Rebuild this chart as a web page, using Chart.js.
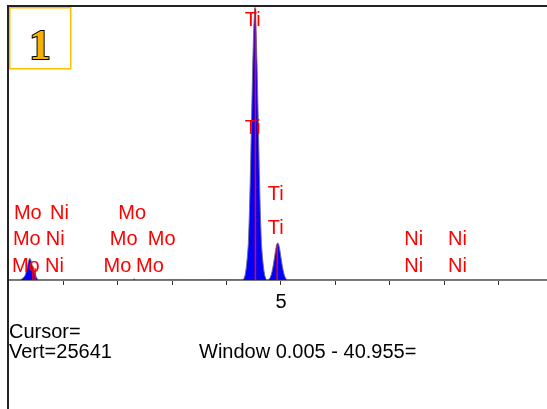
<!DOCTYPE html>
<html><head><meta charset="utf-8">
<script src="https://cdn.jsdelivr.net/npm/chart.js@4"></script>
<style>html,body{margin:0;padding:0;background:#fff;overflow:hidden}canvas{display:block}</style>
</head><body>
<canvas id="c" width="547" height="409"></canvas>
<script>
// Spectrum (energy in keV, counts)
const energies = [0.00, 0.20, 0.22, 0.24, 0.26, 0.28, 0.30, 0.32, 0.34, 0.36, 0.38, 0.40, 0.42, 0.44, 0.46, 0.48, 0.50, 0.52, 0.54,
  2.26, 2.30, 2.34,
  4.30, 4.32, 4.34, 4.36, 4.38, 4.40, 4.42, 4.44, 4.46, 4.48, 4.50, 4.52, 4.54, 4.56, 4.58, 4.60, 4.62, 4.64, 4.66, 4.68, 4.70, 4.72, 4.74,
  4.76, 4.78, 4.80, 4.82, 4.84, 4.86, 4.88, 4.90, 4.92, 4.94, 4.96, 4.98, 5.00, 5.02, 5.04, 5.06, 5.08, 5.10, 5.12,
  9.89];
const counts = [0, 0, 60, 120, 180, 300, 480, 850, 1350, 1800, 2050, 1900, 1500, 1150, 850, 550, 300, 120, 0,
  0, 100, 0,
  40, 150, 450, 1100, 2100, 3400, 6400, 10500, 15400, 20200, 23800, 25600, 23800, 20200, 15400, 10500, 6400, 3400, 2100, 1100, 450, 150, 0,
  0, 60, 220, 480, 900, 1450, 2100, 2800, 3300, 3500, 3300, 2800, 2100, 1450, 900, 480, 220, 60, 0,
  0];

// Element marker lines
const markerEnergies = [0.44, 0.48, 4.53, 4.93];
const markerCounts = [1300, 1100, 25500, 3300];

// Element labels
const labelNames = ['Mo','Ni','Mo', 'Mo','Ni','Mo','Mo', 'Mo','Ni','Mo','Mo', 'Ni','Ni','Ni','Ni', 'Ti','Ti','Ti','Ti'];
const labelEnergies = [0.346,0.928,2.265, 0.327,0.851,2.108,2.807, 0.309,0.836,1.994,2.592, 7.441,8.245,7.441,8.245, 4.48,4.48,4.904,4.904];
const labelLevels = [6265,6265,6265, 3823,3823,3823,3823, 1249,1249,1249,1249, 3823,3823,1249,1249, 24345,14277,8031,4818];

// Axis
const labeledTicks = [5];
const fullScale = 25641;
const energyMax = 9.89;

const points = energies.map((e, i) => ({x: e, y: counts[i]}));
const FONT = '"Liberation Sans", Arial, sans-serif';

const overlay = {
  id: 'overlay',
  afterDatasetsDraw(chart) {
    const ctx = chart.ctx, xs = chart.scales.x, ys = chart.scales.y;
    ctx.save();
    ctx.strokeStyle = '#ff0000';
    ctx.lineWidth = 1.5;
    markerEnergies.forEach((e, i) => {
      const px = xs.getPixelForValue(e);
      ctx.beginPath();
      ctx.moveTo(px, ys.getPixelForValue(0));
      ctx.lineTo(px, ys.getPixelForValue(markerCounts[i]));
      ctx.stroke();
    });
    ctx.fillStyle = '#ff0000';
    ctx.font = '20px ' + FONT;
    ctx.textAlign = 'center';
    ctx.textBaseline = 'middle';
    labelNames.forEach((n, i) => {
      ctx.fillText(n, xs.getPixelForValue(labelEnergies[i]), ys.getPixelForValue(labelLevels[i]));
    });
    ctx.restore();
  },
  afterDraw(chart) {
    const ctx = chart.ctx;
    ctx.save();
    ctx.fillStyle = '#222';
    ctx.fillRect(7, 5, 2, 404);
    ctx.fillRect(7, 5, 540, 2);
    ctx.strokeStyle = '#FFC000';
    ctx.lineWidth = 1.5;
    ctx.strokeRect(9.75, 7.75, 61, 61);
    ctx.font = 'bold 43px "Liberation Serif", "DejaVu Serif", serif';
    ctx.textAlign = 'center';
    ctx.textBaseline = 'alphabetic';
    ctx.lineWidth = 2;
    ctx.strokeStyle = '#000';
    ctx.strokeText('1', 40, 59);
    ctx.fillStyle = '#F5B000';
    ctx.fillText('1', 40, 59);
    ctx.fillStyle = '#000';
    ctx.font = '20px ' + FONT;
    ctx.textAlign = 'left';
    ctx.fillText('Cursor=', 9, 338);
    ctx.fillText('Vert=' + fullScale, 9, 358);
    ctx.fillText('Window 0.005 - 40.955=', 199, 358);
    ctx.restore();
  }
};

new Chart(document.getElementById('c'), {
  type: 'line',
  data: {
    datasets: [{
      data: points,
      borderColor: 'rgba(110,110,140,0.9)',
      borderWidth: 1,
      backgroundColor: '#0000ff',
      fill: 'origin',
      pointRadius: 0,
      tension: 0
    }]
  },
  options: {
    responsive: false,
    animation: false,
    devicePixelRatio: 1,
    events: [],
    layout: {padding: {left: 9, top: 7, right: 0, bottom: 90}},
    plugins: {legend: {display: false}, tooltip: {enabled: false}},
    scales: {
      x: {
        type: 'linear',
        min: 0,
        max: energyMax,
        afterBuildTicks: s => { s.ticks = s.ticks.filter(t => t.value > 0); },
        ticks: {
          stepSize: 1,
          includeBounds: false,
          autoSkip: false,
          maxRotation: 0,
          padding: 5,
          color: '#000',
          font: {family: FONT, size: 20},
          callback: v => labeledTicks.includes(v) ? String(v) : ''
        },
        grid: {drawOnChartArea: false, drawTicks: true, tickLength: 5, tickColor: '#333', tickWidth: 1},
        border: {display: true, color: '#7a7a7a', width: 2}
      },
      y: {
        display: false,
        min: 0,
        max: fullScale
      }
    }
  },
  plugins: [overlay]
});
</script>
</body></html>
